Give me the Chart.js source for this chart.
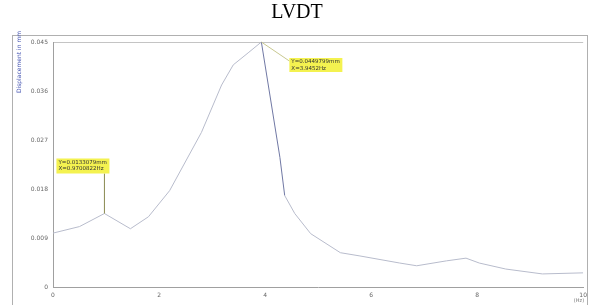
<!DOCTYPE html>
<html>
<head>
<meta charset="utf-8">
<script src="https://cdn.jsdelivr.net/npm/chart.js@4"></script>
<style>
  body { margin: 0; background: #fff; }
  #wrap { width: 589px; height: 305px; position: relative; }
</style>
</head>
<body>
<div id="wrap"><canvas id="lvdt"></canvas></div>
<script>
// frequency (Hz) and displacement (mm)
const freqHz = [0, 0.5, 0.97, 1.46, 1.8, 2.2, 2.8, 3.18, 3.4, 3.68, 3.93, 4.28, 4.37, 4.56, 4.86, 5.42, 5.79, 6.54, 6.86, 7.42, 7.79, 8.04, 8.54, 9.23, 10];
const dispMm = [0.0099, 0.0111, 0.0135, 0.0107, 0.0129, 0.0177, 0.0284, 0.0371, 0.0408, 0.043, 0.045, 0.0238, 0.0168, 0.0135, 0.0098, 0.0063, 0.0057, 0.0044, 0.0039, 0.0048, 0.0053, 0.0044, 0.0033, 0.0024, 0.0026];
const yTicks = [0, 0.009, 0.018, 0.027, 0.036, 0.045];
const xTicks = [0, 2, 4, 6, 8, 10];
const markers = [
    { idx: 2, lines: ['Y=0.0133079mm', 'X=0.9700822Hz'] },
    { idx: 10, lines: ['Y=0.0449799mm', 'X=3.9452Hz'] }
];

const points = freqHz.map((x, i) => ({ x: x, y: dispMm[i] }));

const framePlugin = {
    id: 'frame',
    beforeDraw(chart) {
        const ctx = chart.ctx;
        const a = chart.chartArea;
        ctx.save();
        ctx.strokeStyle = '#b0b0b0';
        ctx.lineWidth = 1;
        ctx.strokeRect(12.5, 35.5, 575, 272);
        ctx.strokeStyle = '#c4c4c4';
        ctx.beginPath();
        ctx.moveTo(a.left, a.top + 0.5);
        ctx.lineTo(a.right, a.top + 0.5);
        ctx.stroke();
        // title
        ctx.fillStyle = '#000';
        ctx.font = '20px "Liberation Serif", "Times New Roman", serif';
        ctx.textAlign = 'center';
        ctx.textBaseline = 'middle';
        ctx.fillText('LVDT', 297, 13);
        // y axis title
        ctx.save();
        ctx.translate(19, 62);
        ctx.rotate(-Math.PI / 2);
        ctx.fillStyle = '#4050b0';
        ctx.font = '6px "DejaVu Sans", sans-serif';
        ctx.fillText('Displacement in mm', 0, 0);
        ctx.restore();
        // x axis unit
        ctx.fillStyle = '#777';
        ctx.font = '5px "DejaVu Sans", sans-serif';
        ctx.fillText('(Hz)', 579, 301);
        ctx.restore();
    },
    afterDatasetsDraw(chart) {
        const ctx = chart.ctx;
        const xs = chart.scales.x, ys = chart.scales.y;
        const boxes = [
            { dx: -48, dy: -55, w: 53, h: 15 },
            { dx: 28, dy: 16, w: 53, h: 14 }
        ];
        ctx.save();
        markers.forEach((m, k) => {
            const px = xs.getPixelForValue(freqHz[m.idx]);
            const py = ys.getPixelForValue(dispMm[m.idx]);
            const b = boxes[k];
            const bx = px + b.dx, by = py + b.dy;
            ctx.strokeStyle = k === 0 ? '#8a8a50' : '#c8c890';
            ctx.lineWidth = 1;
            ctx.beginPath();
            if (k === 0) {
                ctx.moveTo(px, py);
                ctx.lineTo(px, by + b.h);
            } else {
                ctx.moveTo(px, py);
                ctx.lineTo(bx, by + 3);
            }
            ctx.stroke();
            ctx.fillStyle = '#f4f250';
            ctx.fillRect(bx, by, b.w, b.h);
            ctx.fillStyle = '#333';
            ctx.font = '5.5px "DejaVu Sans", sans-serif';
            ctx.textAlign = 'left';
            ctx.textBaseline = 'top';
            m.lines.forEach((t, j) => ctx.fillText(t, bx + 2, by + 1 + j * 6.5));
        });
        ctx.restore();
    }
};

new Chart(document.getElementById('lvdt'), {
    type: 'line',
    data: {
        datasets: [{
            data: points,
            borderColor: '#b8bccc',
            borderWidth: 1,
            pointRadius: 0,
            tension: 0,
            segment: {
                borderColor: c => (c.p0DataIndex === 10 || c.p0DataIndex === 11) ? '#7078a4' : undefined
            }
        }]
    },
    options: {
        responsive: true,
        maintainAspectRatio: false,
        animation: false,
        layout: { padding: { top: 42, left: 0, right: 2, bottom: 0 } },
        plugins: { legend: { display: false }, tooltip: { enabled: false } },
        scales: {
            x: {
                type: 'linear',
                min: 0,
                max: 10,
                afterFit: s => { s.height = 18; },
                afterBuildTicks: s => { s.ticks = xTicks.map(v => ({ value: v })); },
                grid: { display: false, drawTicks: true, tickLength: 3 },
                border: { color: '#a0a0a0' },
                ticks: { color: '#666', font: { size: 6, family: 'DejaVu Sans' }, padding: 2, maxRotation: 0 }
            },
            y: {
                min: 0,
                max: 0.045,
                afterFit: s => { s.width = 53; },
                afterBuildTicks: s => { s.ticks = yTicks.map(v => ({ value: v })); },
                grid: { display: false, tickLength: 3 },
                border: { color: '#a0a0a0' },
                ticks: {
                    color: '#666',
                    font: { size: 6, family: 'DejaVu Sans' },
                    padding: 2,
                    callback: v => v === 0 ? '0' : v.toFixed(3)
                }
            }
        }
    },
    plugins: [framePlugin]
});
</script>
</body>
</html>
